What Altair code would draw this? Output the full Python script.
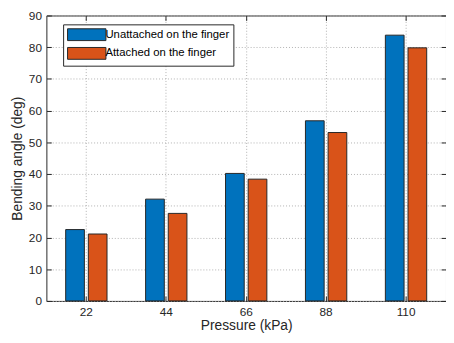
import altair as alt
import pandas as pd

pressures = ["22", "44", "66", "88", "110"]
series = ["Unattached on the finger", "Attached on the finger"]
unattached = [22.5, 32.1, 40.2, 56.8, 83.8]
attached = [21.1, 27.6, 38.4, 53.1, 79.8]
colors = ["#0072BD", "#D95319"]
y_ticks = [0, 10, 20, 30, 40, 50, 60, 70, 80, 90]

rows = []
for p, u, a in zip(pressures, unattached, attached):
    rows.append({"Pressure": p, "Series": series[0], "Value": u})
    rows.append({"Pressure": p, "Series": series[1], "Value": a})
df = pd.DataFrame(rows)

FONT = "Liberation Sans"
TXT = "#262626"

xscale = alt.Scale(domain=pressures, paddingInner=0, paddingOuter=0)
yscale = alt.Scale(domain=[0, 90], nice=False)
xoff_scale = alt.Scale(domain=series, paddingInner=0.174, paddingOuter=0.852)

base = alt.Chart(df)

bars = base.mark_bar(stroke="#262626", strokeWidth=1).encode(
    x=alt.X("Pressure:O", scale=xscale, sort=pressures,
            axis=alt.Axis(orient="bottom", title="Pressure (kPa)", labelAngle=0,
                          offset=-5, tickSize=5, domain=False, grid=True,
                          labelPadding=6, titlePadding=1)),
    xOffset=alt.XOffset("Series:N", scale=xoff_scale, sort=series),
    y=alt.Y("Value:Q", scale=yscale,
            axis=alt.Axis(orient="left", title="Bending angle (deg)", values=y_ticks,
                          offset=-5, tickSize=5, domain=False, grid=True,
                          labelPadding=5, titlePadding=4)),
    color=alt.Color("Series:N", sort=series,
                    scale=alt.Scale(domain=series, range=colors),
                    legend=alt.Legend(orient="none", legendX=17, legendY=9, title=None,
                                      symbolType="M-1,-1L5.5,-1L5.5,1L-1,1Z",
                                      symbolSize=144, symbolStrokeColor="#262626",
                                      symbolStrokeWidth=1, symbolOpacity=1,
                                      labelFont=FONT, labelFontSize=11.5, labelColor="#000",
                                      strokeColor="#262626", fillColor="white",
                                      padding=4, rowPadding=2, labelOffset=26)),
)

ticks2 = base.mark_bar(opacity=0).encode(
    x=alt.X("Pressure:O", scale=xscale, sort=pressures,
            axis=alt.Axis(orient="top", title=None, labels=False, offset=-5,
                          tickSize=5, domain=False, grid=False)),
    xOffset=alt.XOffset("Series:N", scale=xoff_scale, sort=series),
    y=alt.Y("Value:Q", scale=yscale,
            axis=alt.Axis(orient="right", title=None, labels=False, values=y_ticks,
                          offset=-5, tickSize=5, domain=False, grid=False)),
)

chart = alt.layer(bars, ticks2).resolve_axis(x="independent", y="independent").properties(
    width=406, height=290,
    autosize=alt.AutoSizeParams(type="none"),
    padding={"left": 39, "top": 5, "right": 0, "bottom": 32},
).configure_view(stroke="#262626", strokeWidth=1).configure_axis(
    labelFont=FONT, titleFont=FONT, labelFontSize=12, titleFontSize=14,
    labelColor=TXT, titleColor=TXT, titleFontWeight="normal",
    tickColor=TXT, gridColor="#b0b0b0", gridDash=[1, 2], gridWidth=1,
)

chart.save("out.html", embed_options={"renderer": "svg", "actions": False})
